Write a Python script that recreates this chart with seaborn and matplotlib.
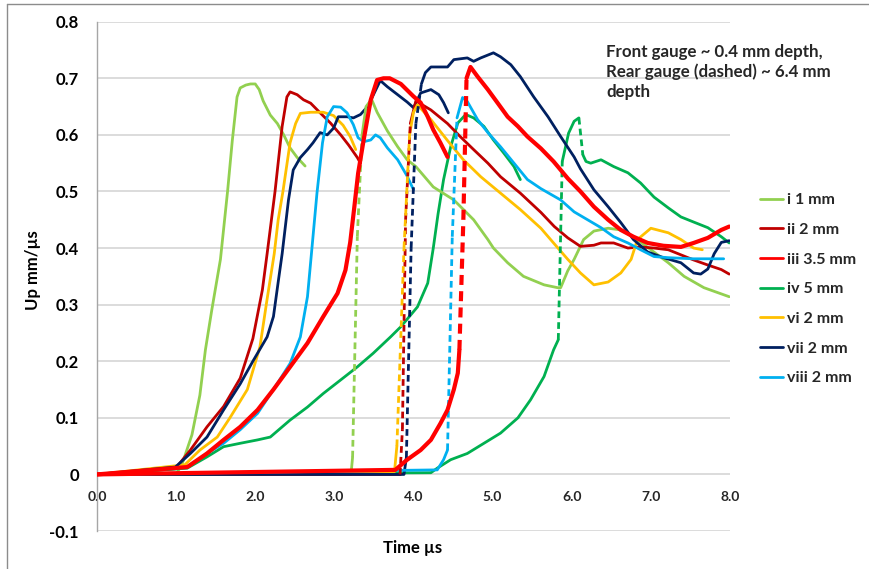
import numpy as np
import pandas as pd
import matplotlib
matplotlib.use("Agg")
import matplotlib.pyplot as plt
from matplotlib.lines import Line2D
import seaborn as sns

# ---------------------------------------------------------------------------
# Particle velocity histories (Up, mm/us) against time (us)
# ---------------------------------------------------------------------------
series_names = ["i 1 mm", "ii 2 mm", "iii 3.5 mm", "iv 5 mm", "vi 2 mm", "vii 2 mm", "viii 2 mm"]
series_colors = ["#92D050", "#C00000", "#FF0000", "#00B050", "#FFC000", "#002060", "#00B0F0"]

# Front gauge (~0.4 mm depth)
front_i_t = [0, 1.00, 1.08, 1.20, 1.30, 1.37, 1.45, 1.56, 1.65, 1.71, 1.77, 1.81, 1.88, 1.94, 2.00, 2.05, 2.10, 2.19, 2.28, 2.36, 2.44, 2.53, 2.63]
front_i_u = [0, 0.0, 0.02, 0.07, 0.14, 0.22, 0.29, 0.38, 0.50, 0.59, 0.667, 0.683, 0.688, 0.69, 0.69, 0.68, 0.66, 0.635, 0.62, 0.60, 0.577, 0.56, 0.545]

front_ii_t = [0, 0.99, 1.18, 1.39, 1.60, 1.81, 1.97, 2.09, 2.15, 2.25, 2.34, 2.40, 2.44, 2.53, 2.61, 2.70, 2.82, 2.95, 3.08, 3.18, 3.29, 3.33]
front_ii_u = [0, 0.01, 0.043, 0.084, 0.12, 0.17, 0.24, 0.326, 0.39, 0.50, 0.615, 0.667, 0.676, 0.671, 0.662, 0.656, 0.639, 0.621, 0.60, 0.582, 0.56, 0.55]

front_iii_t = [0, 1.14, 1.39, 1.60, 1.81, 2.03, 2.23, 2.44, 2.66, 2.86, 3.04, 3.14, 3.20, 3.25, 3.30, 3.37, 3.46, 3.54, 3.62, 3.70, 3.84, 4.00, 4.09, 4.18, 4.25, 4.34, 4.43]
front_iii_u = [0, 0.013, 0.037, 0.061, 0.084, 0.114, 0.15, 0.19, 0.232, 0.279, 0.32, 0.361, 0.41, 0.47, 0.532, 0.591, 0.662, 0.697, 0.70, 0.70, 0.69, 0.668, 0.657, 0.632, 0.609, 0.586, 0.561]

front_iv_t = [0, 1.14, 1.39, 1.60, 1.81, 2.03, 2.19, 2.44, 2.66, 2.86, 3.08, 3.29, 3.49, 3.71, 3.84, 4.05, 4.18, 4.25, 4.31, 4.38, 4.47, 4.56, 4.66, 4.76, 4.89, 5.01, 5.14, 5.27, 5.35]
front_iv_u = [0, 0.011, 0.031, 0.049, 0.055, 0.061, 0.066, 0.096, 0.119, 0.143, 0.167, 0.19, 0.214, 0.243, 0.261, 0.296, 0.338, 0.40, 0.46, 0.521, 0.579, 0.621, 0.636, 0.63, 0.615, 0.591, 0.568, 0.544, 0.521]

front_vi_t = [0, 1.11, 1.30, 1.52, 1.68, 1.90, 2.06, 2.15, 2.24, 2.29, 2.35, 2.44, 2.51, 2.57, 2.70, 2.86, 2.99, 3.11, 3.20, 3.27]
front_vi_u = [0, 0.017, 0.043, 0.066, 0.10, 0.15, 0.226, 0.31, 0.39, 0.45, 0.50, 0.586, 0.62, 0.638, 0.64, 0.64, 0.634, 0.617, 0.597, 0.574]

front_vii_t = [0, 0.99, 1.18, 1.39, 1.60, 1.81, 1.97, 2.15, 2.23, 2.29, 2.34, 2.42, 2.48, 2.57, 2.66, 2.73, 2.82, 2.91, 2.99, 3.05, 3.16, 3.24, 3.33, 3.42, 3.48, 3.58, 3.67, 3.80, 3.92, 4.00, 4.09, 4.22, 4.32, 4.38, 4.44]
front_vii_u = [0, 0.013, 0.037, 0.066, 0.114, 0.16, 0.20, 0.243, 0.279, 0.34, 0.39, 0.485, 0.538, 0.56, 0.574, 0.586, 0.604, 0.60, 0.612, 0.632, 0.632, 0.63, 0.636, 0.65, 0.667, 0.696, 0.685, 0.671, 0.658, 0.648, 0.674, 0.68, 0.671, 0.657, 0.639]

front_viii_t = [0, 1.14, 1.39, 1.60, 1.81, 2.03, 2.23, 2.44, 2.57, 2.66, 2.71, 2.78, 2.85, 2.91, 2.99, 3.08, 3.16, 3.24, 3.30, 3.37, 3.46, 3.52, 3.58, 3.67, 3.80, 3.92, 4.00]
front_viii_u = [0, 0.013, 0.037, 0.055, 0.079, 0.108, 0.15, 0.196, 0.243, 0.314, 0.39, 0.497, 0.586, 0.632, 0.65, 0.649, 0.639, 0.618, 0.595, 0.588, 0.591, 0.60, 0.595, 0.577, 0.556, 0.527, 0.503]

# Rear gauge (~6.4 mm depth)
rear_i_t = [0, 3.21, 3.23, 3.29, 3.35, 3.40, 3.47, 3.54, 3.67, 3.80, 3.92, 4.03, 4.25, 4.51, 4.76, 4.94, 5.01, 5.19, 5.39, 5.65, 5.82, 5.86, 5.95, 6.03, 6.15, 6.28, 6.46, 6.62, 6.78, 7.00, 7.22, 7.42, 7.67, 7.99]
rear_i_u = [0, 0.0, 0.03, 0.42, 0.60, 0.65, 0.663, 0.64, 0.607, 0.579, 0.556, 0.544, 0.508, 0.485, 0.45, 0.415, 0.40, 0.374, 0.35, 0.335, 0.33, 0.33, 0.36, 0.38, 0.415, 0.43, 0.435, 0.432, 0.42, 0.397, 0.374, 0.35, 0.33, 0.314]

rear_ii_t = [0, 3.83, 3.86, 3.90, 3.96, 4.03, 4.22, 4.43, 4.59, 4.76, 4.94, 5.10, 5.35, 5.61, 5.78, 5.95, 6.11, 6.28, 6.37, 6.53, 6.71, 6.87, 7.04, 7.22, 7.38, 7.54, 7.72, 7.89, 7.99]
rear_ii_u = [0, 0.0, 0.08, 0.45, 0.62, 0.66, 0.644, 0.62, 0.597, 0.574, 0.55, 0.526, 0.497, 0.463, 0.438, 0.418, 0.403, 0.405, 0.409, 0.409, 0.40, 0.402, 0.40, 0.397, 0.388, 0.379, 0.37, 0.362, 0.354]

rear_iii_t = [0, 3.77, 3.92, 4.09, 4.22, 4.34, 4.43, 4.51, 4.56, 4.58, 4.63, 4.67, 4.72, 4.81, 4.94, 5.06, 5.19, 5.32, 5.44, 5.61, 5.77, 5.95, 6.11, 6.28, 6.46, 6.62, 6.78, 6.96, 7.16, 7.38, 7.54, 7.72, 7.89, 7.99]
rear_iii_u = [0, 0.008, 0.026, 0.043, 0.061, 0.09, 0.114, 0.15, 0.179, 0.22, 0.45, 0.70, 0.72, 0.703, 0.68, 0.657, 0.632, 0.615, 0.597, 0.576, 0.553, 0.523, 0.50, 0.473, 0.45, 0.432, 0.42, 0.409, 0.404, 0.402, 0.409, 0.418, 0.432, 0.438]

rear_iv_t = [0, 4.22, 4.30, 4.47, 4.68, 4.89, 5.10, 5.32, 5.48, 5.65, 5.77, 5.83, 5.88, 5.96, 6.03, 6.09, 6.14, 6.18, 6.24, 6.37, 6.53, 6.71, 6.87, 7.04, 7.22, 7.38, 7.54, 7.72, 7.89, 7.99]
rear_iv_u = [0, 0.003, 0.011, 0.026, 0.037, 0.055, 0.073, 0.10, 0.132, 0.173, 0.22, 0.238, 0.553, 0.603, 0.624, 0.63, 0.565, 0.553, 0.55, 0.556, 0.544, 0.533, 0.515, 0.49, 0.471, 0.455, 0.446, 0.436, 0.42, 0.409]

rear_vi_t = [0, 3.76, 3.79, 3.88, 3.95, 4.00, 4.05, 4.22, 4.43, 4.63, 4.85, 5.10, 5.35, 5.61, 5.77, 5.95, 6.11, 6.28, 6.46, 6.62, 6.75, 6.83, 7.00, 7.22, 7.38, 7.54, 7.65]
rear_vi_u = [0, 0.005, 0.05, 0.40, 0.60, 0.64, 0.653, 0.627, 0.59, 0.556, 0.526, 0.497, 0.468, 0.435, 0.409, 0.38, 0.356, 0.335, 0.34, 0.356, 0.38, 0.415, 0.435, 0.427, 0.415, 0.40, 0.397]

rear_vii_t = [0, 3.88, 3.91, 3.97, 4.03, 4.10, 4.15, 4.22, 4.43, 4.51, 4.68, 4.76, 4.85, 5.01, 5.10, 5.23, 5.35, 5.52, 5.70, 5.86, 6.03, 6.11, 6.28, 6.46, 6.62, 6.78, 6.96, 7.16, 7.38, 7.54, 7.63, 7.72, 7.80, 7.89, 7.99]
rear_vii_u = [0, 0.0, 0.03, 0.40, 0.62, 0.69, 0.71, 0.72, 0.72, 0.733, 0.736, 0.73, 0.736, 0.745, 0.738, 0.724, 0.703, 0.667, 0.632, 0.597, 0.561, 0.54, 0.503, 0.473, 0.445, 0.415, 0.393, 0.383, 0.374, 0.356, 0.354, 0.363, 0.39, 0.41, 0.413]

rear_viii_t = [0, 4.30, 4.38, 4.43, 4.49, 4.55, 4.62, 4.68, 4.81, 4.94, 5.10, 5.27, 5.44, 5.61, 5.86, 6.03, 6.20, 6.37, 6.53, 6.71, 6.87, 7.04, 7.22, 7.54, 7.92]
rear_viii_u = [0, 0.008, 0.026, 0.043, 0.42, 0.63, 0.666, 0.659, 0.627, 0.604, 0.579, 0.55, 0.521, 0.505, 0.485, 0.464, 0.45, 0.436, 0.42, 0.409, 0.397, 0.385, 0.383, 0.381, 0.381]

x_ticks = [0, 1, 2, 3, 4, 5, 6, 7, 8]
x_tick_labels = ["0.0", "1.0", "2.0", "3.0", "4.0", "5.0", "6.0", "7.0", "8.0"]
y_ticks = [-0.1, 0.0, 0.1, 0.2, 0.3, 0.4, 0.5, 0.6, 0.7, 0.8]
y_tick_labels = ["-0.1", "0", "0.1", "0.2", "0.3", "0.4", "0.5", "0.6", "0.7", "0.8"]

note_text = "Front gauge ~ 0.4 mm depth,\nRear gauge (dashed) ~ 6.4 mm\ndepth"

front_data = [(front_i_t, front_i_u), (front_ii_t, front_ii_u), (front_iii_t, front_iii_u),
              (front_iv_t, front_iv_u), (front_vi_t, front_vi_u), (front_vii_t, front_vii_u),
              (front_viii_t, front_viii_u)]
rear_data = [(rear_i_t, rear_i_u), (rear_ii_t, rear_ii_u), (rear_iii_t, rear_iii_u),
             (rear_iv_t, rear_iv_u), (rear_vi_t, rear_vi_u), (rear_vii_t, rear_vii_u),
             (rear_viii_t, rear_viii_u)]

# ---------------------------------------------------------------------------
# Styling
# ---------------------------------------------------------------------------
sns.set_style("white")
plt.rcParams["font.family"] = ["Lato", "DejaVu Sans"]
plt.rcParams["font.weight"] = "bold"

palette = dict(zip(series_names, series_colors))
widths = {n: (3.0 if n.startswith("iii") else 2.0) for n in series_names}
text_kw = dict(fontsize=12, fontweight="bold", color="black")

W, H = 869, 569
fig = plt.figure(figsize=(W / 100, H / 100), dpi=100)
ax = fig.add_axes([97 / W, 1 - 531 / H, (730 - 97) / W, (531 - 21.7) / H])
ax.set_xlim(0, 8)
ax.set_ylim(-0.1, 0.8)

# Front gauge traces (solid)
front_df = pd.concat(
    [pd.DataFrame({"t": t, "u": u, "series": n}) for n, (t, u) in zip(series_names, front_data)],
    ignore_index=True)
sns.lineplot(data=front_df, x="t", y="u", hue="series", size="series",
             palette=palette, sizes=widths, hue_order=series_names, size_order=series_names,
             estimator=None, sort=False, legend=False, ax=ax, zorder=2)

# Rear gauge traces: steep, sparsely sampled jumps show as dashes,
# the densely sampled parts as a continuous line.
jump_px = 32
rows, jumps = [], []
for n, (t, u) in zip(series_names, rear_data):
    disp = ax.transData.transform(np.column_stack([t, u]))
    piece = 0
    rows.append((n, f"{n}-{piece}", t[0], u[0]))
    for k in range(1, len(t)):
        if abs(disp[k, 1] - disp[k - 1, 1]) > jump_px:
            jumps.append((n, t[k - 1], u[k - 1], t[k], u[k]))
            piece += 1
        rows.append((n, f"{n}-{piece}", t[k], u[k]))
rear_df = pd.DataFrame(rows, columns=["series", "piece", "t", "u"])
sns.lineplot(data=rear_df, x="t", y="u", hue="series", size="series", units="piece",
             palette=palette, sizes=widths, hue_order=series_names, size_order=series_names,
             estimator=None, sort=False, legend=False, ax=ax, zorder=3)
for n, x0, y0, x1, y1 in jumps:
    ax.plot([x0, x1], [y0, y1], color=palette[n], lw=widths[n],
            dashes=(2.4, 1.5), dash_capstyle="butt", zorder=3)

# the noisy iii record sits on top of the others
red_rgb = matplotlib.colors.to_rgb(palette["iii 3.5 mm"])
for line in ax.get_lines():
    if np.allclose(matplotlib.colors.to_rgb(line.get_color()), red_rgb):
        line.set_zorder(4)

# Axes
ax.set_xticks(x_ticks)
ax.set_xticklabels(x_tick_labels, **text_kw)
ax.set_yticks(y_ticks)
ax.set_yticklabels(y_tick_labels, **text_kw)
ax.yaxis.grid(True, color="#D9D9D9", lw=1.3)
ax.xaxis.grid(False)
ax.set_axisbelow(True)
for s in ["top", "right"]:
    ax.spines[s].set_visible(False)
ax.spines["bottom"].set_position(("data", 0))
ax.spines["bottom"].set_visible(False)
ax.spines["left"].set_color("#A6A6A6")
ax.spines["left"].set_linewidth(1.0)
ax.tick_params(axis="x", length=0, pad=12)
ax.tick_params(axis="y", length=0, pad=13)
ax.set_xlabel("")
ax.set_ylabel("")

fig.text(413 / W, 1 - 548 / H, "Time µs", ha="center", va="center", **text_kw)
fig.text(33 / W, 1 - 270 / H, "Up mm/µs", ha="center", va="center", rotation=90, **text_kw)
fig.text(606 / W, 1 - 44 / H, note_text, ha="left", va="top", linespacing=1.28,
         fontsize=12.2, fontweight="bold")

# Legend
handles = [Line2D([], [], color=c, lw=2.0) for c in series_colors]
fig.legend(handles, series_names, loc="upper left", bbox_to_anchor=(760 / W, 1 - 193 / H),
           frameon=False, borderpad=0, borderaxespad=0, handlelength=1.45,
           handletextpad=0.25, labelspacing=0.97,
           prop=dict(size=11.5, weight="bold"))

# Chart area border
fig.add_artist(Line2D([7 / W, 7 / W], [0, 1 - 4 / H], color="#8C8C8C", lw=1.0,
                      transform=fig.transFigure))
fig.add_artist(Line2D([7 / W, 1], [1 - 4 / H, 1 - 4 / H], color="#8C8C8C", lw=1.0,
                      transform=fig.transFigure))

fig.savefig("out.png", dpi=100)
